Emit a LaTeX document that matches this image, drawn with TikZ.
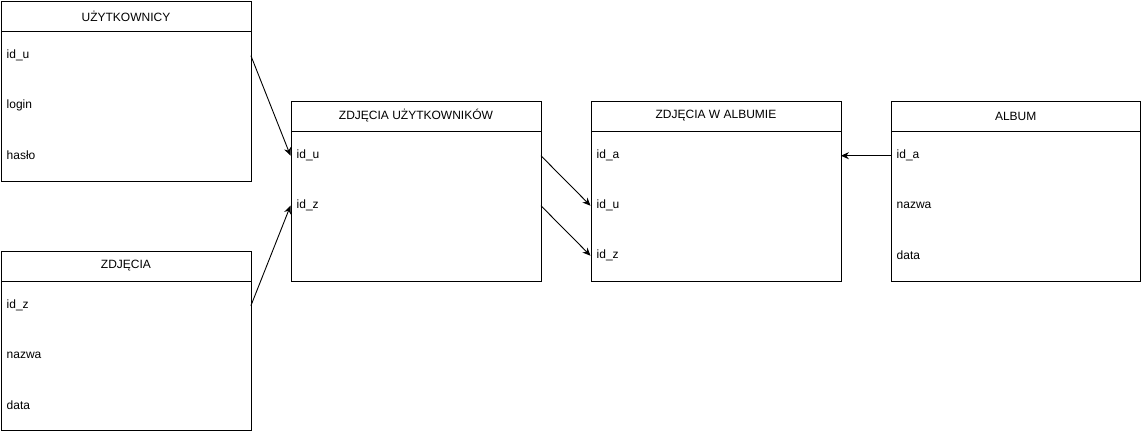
\documentclass[tikz,border=0pt]{standalone}
\usepackage{fontspec}
\setmainfont{Liberation Sans}
\usetikzlibrary{arrows.meta}
\begin{document}
\begin{tikzpicture}[x=1pt,y=-1pt,
  tbox/.style={draw,line width=0.9pt,minimum width=250pt,anchor=north west,inner sep=0pt},
  hdr/.style={tbox,minimum height=30pt,font=\fontsize{12}{14}\selectfont},
  body/.style={tbox,minimum height=150pt},
  rowc/.style={anchor=north west,inner xsep=6pt,inner ysep=0pt,text width=238pt,minimum height=50pt,align=left,font=\fontsize{12}{14}\selectfont},
  link/.style={line width=0.9pt,-{Stealth[length=8pt,width=7pt]}}]
\useasboundingbox (0,0) rectangle (1141,431);
% UZYTKOWNICY
\node[hdr] (uh) at (0.5,0.5) {UŻYTKOWNICY};
\node[body] (ub) at (0.5,30.5) {};
\node[rowc] (u1) at (0.5,30.5) {id\_u};
\node[rowc] (u2) at (0.5,80.5) {login};
\node[rowc] (u3) at (0.5,130.5) {hasło};
% ZDJECIA
\node[hdr] (zh) at (0.5,250.5) {ZDJĘCIA};
\node[body,minimum height=149.5pt] (zb) at (0.5,280.5) {};
\node[rowc] (z1) at (0.5,280.5) {id\_z};
\node[rowc] (z2) at (0.5,330.5) {nazwa};
\node[rowc] (z3) at (0.5,380.5) {data};
% ZDJECIA UZYTKOWNIKOW
\node[hdr] (zuh) at (290.5,100.5) {ZDJĘCIA UŻYTKOWNIKÓW};
\node[body] (zub) at (290.5,130.5) {};
\node[rowc] (zu1) at (290.5,130.5) {id\_u};
\node[rowc] (zu2) at (290.5,180.5) {id\_z};
% ZDJECIA W ALBUMIE
\node[hdr] (zah) at (590.5,100.5) {ZDJĘCIA W ALBUMIE};
\node[body] (zab) at (590.5,130.5) {};
\node[rowc] (za1) at (590.5,130.5) {id\_a};
\node[rowc] (za2) at (590.5,180.5) {id\_u};
\node[rowc] (za3) at (590.5,230.5) {id\_z};
% ALBUM
\node[hdr,minimum width=249.5pt] (ah) at (890.5,100.5) {ALBUM};
\node[body,minimum width=249.5pt] (ab) at (890.5,130.5) {};
\node[rowc] (a1) at (890.5,130.5) {id\_a};
\node[rowc] (a2) at (890.5,180.5) {nazwa};
\node[rowc] (a3) at (890.5,230.5) {data};
% links
\draw[link] (u1.east) -- (zu1.west);
\draw[link] (z1.east) -- (zu2.west);
\draw[link] (zu1.east) -- (za2.west);
\draw[link] (zu2.east) -- (za3.west);
\draw[link] (a1.west) -- (za1.east);
\end{tikzpicture}
\end{document}
